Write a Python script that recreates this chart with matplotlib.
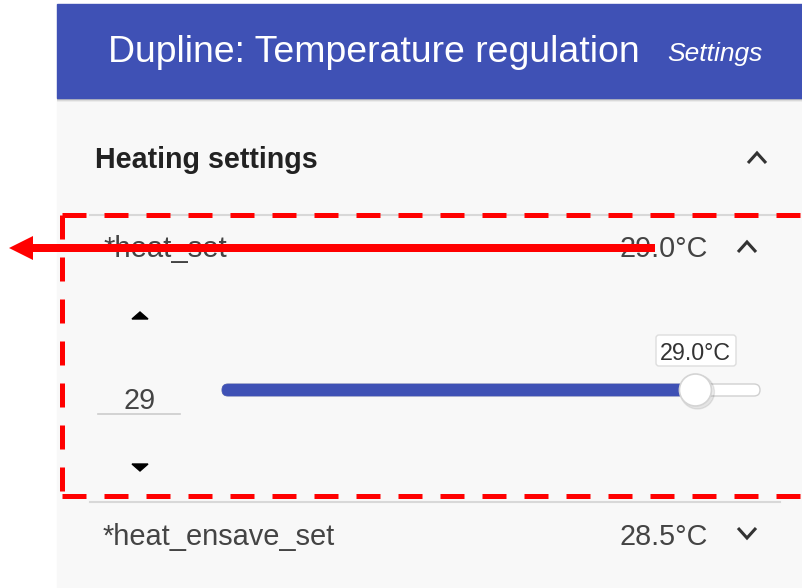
import matplotlib
matplotlib.use("Agg")
import matplotlib.pyplot as plt
from matplotlib.patches import Rectangle, FancyBboxPatch, Circle, Polygon, FancyArrow

# --- content ---
app_title = "Dupline: Temperature regulation"
page_name = "Settings"
section_title = "Heating settings"
row_labels = ["*heat_set", "*heat_ensave_set"]
row_values = [29.0, 28.5]
row_open = [True, False]
slider_value = 29
slider_min, slider_max = 7, 32

W, H = 802, 588
BLUE = "#3f51b5"
BG = "#f8f8f8"
RED = "#ff0000"

# the screenshot is squeezed sideways, a narrow face fits it better
plt.rcParams['font.family'] = ['Liberation Sans Narrow', 'Liberation Sans', 'DejaVu Sans']

fig = plt.figure(figsize=(W / 100, H / 100), dpi=100)
ax = fig.add_axes([0, 0, 1, 1])
ax.set_xlim(0, W)
ax.set_ylim(H, 0)
ax.axis('off')
fig.patch.set_facecolor("white")
renderer = fig.canvas.get_renderer()


def fit_text(x, y, s, width, ha='left', **kw):
    # place text and scale its size so it spans `width` pixels
    t = ax.text(x, y, s, ha=ha, va='center_baseline', fontsize=20, **kw)
    w = t.get_window_extent(renderer).width
    t.set_fontsize(20 * width / w)
    return t


def chevron(cx, cy, up=True, w=9, h=5):
    d = -1 if up else 1
    ax.plot([cx - w, cx, cx + w], [cy - d * h, cy + d * h, cy - d * h],
            color="#333333", lw=2.2, solid_capstyle='butt', solid_joinstyle='miter')


# panel + header
ax.add_patch(Rectangle((57, 0), W - 57, H, color=BG, zorder=0))
ax.add_patch(Rectangle((57, 0), W - 57, 4, color="white", zorder=1))
for i, a in enumerate([0.35, 0.22, 0.12, 0.05]):
    ax.add_patch(Rectangle((57, 98 + i), W - 57, 1.2, color="black", alpha=a, lw=0, zorder=1))
ax.add_patch(Rectangle((57, 4), W - 57, 94, color=BLUE, zorder=2))
fit_text(108, 49, app_title, 530, color="white", zorder=3)
fit_text(667, 51, page_name, 95, color="white", style='italic', zorder=3)

# section header
fit_text(95, 157, section_title, 222, color="#222222", fontweight='bold')
chevron(757, 158, up=True)

# separators
for ys in [215, 502]:
    ax.plot([90, 780], [ys, ys], color="#d8d8d8", lw=1.5, zorder=1)

# rows
row_y = [246, 534]
chev_y = [247, 533]
for lab, val, op, yy, cy in zip(row_labels, row_values, row_open, row_y, chev_y):
    fit_text(103, yy, lab, 232 if len(lab) > 10 else 123, color="#444444")
    fit_text(708, yy, f"{val:.1f}°C", 88, ha='right', color="#444444")
    chevron(747, cy, up=op)

# number spinner
ax.add_patch(Polygon([(132, 319), (140, 312), (148, 319)], closed=True, color="black"))
ax.add_patch(Polygon([(132, 464), (148, 464), (140, 471)], closed=True, color="black"))
fit_text(140, 398, f"{slider_value}", 32, ha='center', color="#444444")
ax.plot([98, 180], [414, 414], color="#cccccc", lw=1.2)

# slider
x0, x1, ty = 222, 760, 390
frac = (slider_value - slider_min) / (slider_max - slider_min)
xv = x0 + frac * (x1 - x0)
ax.add_patch(FancyBboxPatch((x0, ty - 6), x1 - x0, 12, boxstyle="round,pad=0,rounding_size=6",
                            fc="white", ec="#d0d0d0", lw=1, zorder=3))
ax.add_patch(FancyBboxPatch((x0, ty - 6), xv - x0, 12, boxstyle="round,pad=0,rounding_size=6",
                            fc=BLUE, ec=BLUE, lw=0.5, zorder=4))
ax.add_patch(Circle((xv + 2, ty + 2), 17, color="black", alpha=0.08, zorder=5))
ax.add_patch(Circle((xv, ty), 16, fc="white", ec="#d4d4d4", lw=1.2, zorder=6))
ax.add_patch(FancyBboxPatch((656, 335), 80, 31, boxstyle="round,pad=0,rounding_size=3",
                            fc="white", ec="#dddddd", lw=1, zorder=5))
fit_text(xv, 351, f"{float(slider_value):.1f}°C", 71, ha='center', color="#333333", zorder=6)

# red dashed highlight
dash = dict(color=RED, lw=3.6, linestyle=(0, (4.8, 3.6)), dash_capstyle='butt', zorder=8)
ax.plot([62, W + 5], [215, 215], **dash)
ax.plot([62, 62], [215, 496], **dash)
ax.plot([62, W + 5], [496, 496], **dash)

# red arrow
ax.add_patch(FancyArrow(655, 248, -646, 0, width=8, head_width=24, head_length=24,
                        length_includes_head=True, color=RED, lw=0, zorder=9))

fig.savefig("out.png", dpi=100, facecolor="white")
